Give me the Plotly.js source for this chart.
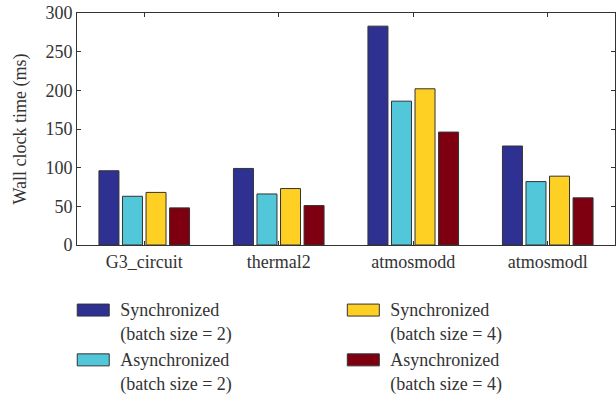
<!DOCTYPE html>
<html><head><meta charset="utf-8">
<script src="https://cdn.plot.ly/plotly-3.0.1.min.js"></script>
<style>body{margin:0;padding:0;background:#fff}</style>
</head><body>
<div id="chart" style="width:616px;height:394px"></div>
<script>
const categories = ["G3_circuit", "thermal2", "atmosmodd", "atmosmodl"];
const sync2 = [96, 99, 283, 128];
const async2 = [63, 66, 186, 82];
const sync4 = [68, 73, 202, 89];
const async4 = [48, 51, 146, 61];
const seriesNames = ["Synchronized<br>(batch size = 2)", "Asynchronized<br>(batch size = 2)", "Synchronized<br>(batch size = 4)", "Asynchronized<br>(batch size = 4)"];
const seriesColors = ["#2e3192", "#52c7da", "#fdd023", "#7e0010"];
const yTicks = [0, 50, 100, 150, 200, 250, 300];

const FONT = "Liberation Serif";
const values = [sync2, async2, sync4, async4];
const legendIds = ["legend", "legend", "legend2", "legend2"];
const traces = values.map((v, i) => ({
  type: "bar", x: categories, y: v, name: seriesNames[i],
  marker: {color: seriesColors[i], line: {color: "#333333", width: 1}},
  legend: legendIds[i]
}));
const legendBase = {
  orientation: "v", yanchor: "top", xanchor: "left", yref: "container",
  font: {family: FONT, size: 18, color: "#333"},
  bgcolor: "rgba(0,0,0,0)", tracegroupgap: 5, itemwidth: 44,
  traceorder: "normal"
};
const layout = {
  width: 616, height: 394,
  margin: {l: 77, r: 1, t: 13, b: 148.5, autoexpand: false},
  paper_bgcolor: "#fff", plot_bgcolor: "#fff",
  barmode: "group", bargap: 0.30, bargroupgap: 0.15,
  font: {family: FONT, size: 18, color: "#333"},
  xaxis: {
    showline: true, linecolor: "#333", linewidth: 1, mirror: "ticks",
    ticks: "inside", ticklen: 4, tickcolor: "#333",
    tickfont: {family: FONT, size: 18, color: "#333"}, range: [-0.5, 3.5]
  },
  yaxis: {
    range: [0, 300], tickvals: yTicks, showgrid: false, zeroline: false,
    showline: true, linecolor: "#333", linewidth: 1, mirror: "ticks",
    ticks: "inside", ticklen: 4, tickcolor: "#333",
    tickfont: {family: FONT, size: 18, color: "#333"},
    title: {text: "Wall clock time (ms)", font: {family: FONT, size: 18, color: "#333"}, standoff: 14}
  },
  showlegend: true,
  legend: Object.assign({}, legendBase, {x: -0.02, y: 0.261}),
  legend2: Object.assign({}, legendBase, {x: 0.482, y: 0.261})
};
Plotly.newPlot("chart", traces, layout, {displayModeBar: false, staticPlot: true}).then(gd => {
  gd.querySelectorAll(".legendpoints path").forEach(p => p.setAttribute("d", "M16,-5H-16V-17H16Z"));
});
</script>
</body></html>
